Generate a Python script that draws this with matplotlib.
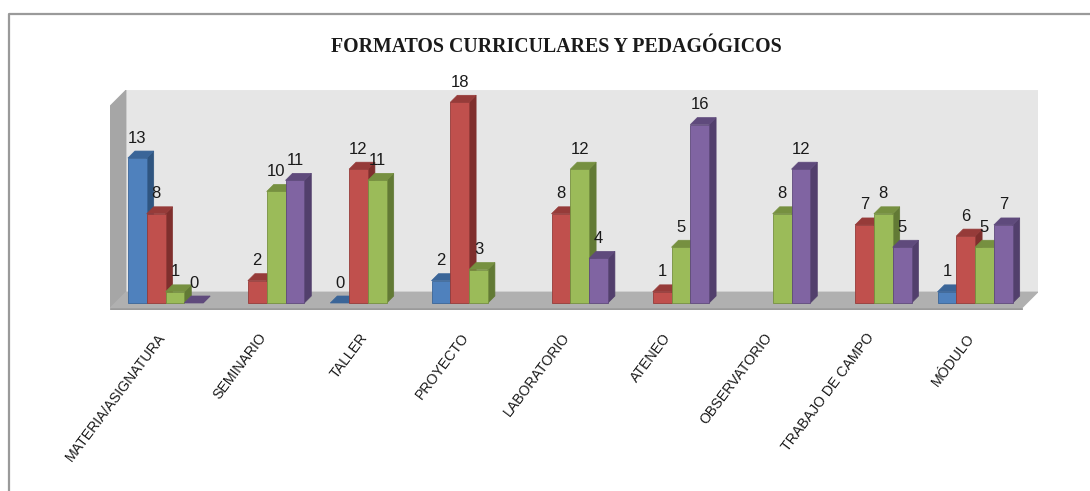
import matplotlib
matplotlib.use("Agg")
import matplotlib.pyplot as plt
from matplotlib.lines import Line2D
from matplotlib.patches import Polygon
from matplotlib.transforms import ScaledTranslation

plt.rcParams["font.family"] = ["Liberation Sans Narrow", "Liberation Sans", "DejaVu Sans"]

categories = ["MATERIA/ASIGNATURA", "SEMINARIO", "TALLER", "PROYECTO", "LABORATORIO",
              "ATENEO", "OBSERVATORIO", "TRABAJO DE CAMPO", "MÓDULO"]
blue = [13, None, 0, 2, None, None, None, None, 1]
red = [8, 2, 12, 18, 8, 1, None, 7, 6]
green = [1, 10, 11, 3, 12, 5, 8, 8, 5]
purple = [0, 11, None, None, 4, 16, 12, 5, 7]

# (front, top, side) shades for each series
SERIES = [
    (blue, ("#4F81BD", "#3A6598", "#2F5580")),
    (red, ("#C0504D", "#963B39", "#7F2F2D")),
    (green, ("#9BBB59", "#769040", "#627A35")),
    (purple, ("#8064A2", "#5F4A7C", "#523F6C")),
]

W, H = 1090, 491
PX_X = 101.2   # px per category
PX_Y = 11.15   # px per count
X0 = 165.5     # px of first category centre
Y0 = 303       # px of the zero line
BAR = 18.8 / PX_X
DX, DY = 7 / PX_X, 7 / PX_Y

fig = plt.figure(figsize=(W / 100, H / 100), dpi=100)
left, right, top, bottom = 110, 1038, 90, 310
ax = fig.add_axes([left / W, 1 - bottom / H, (right - left) / W, (bottom - top) / H])
ax.set_xlim((left - X0) / PX_X, (right - X0) / PX_X)
ax.set_ylim((Y0 - bottom) / PX_Y, (Y0 - top) / PX_Y)
for s in ax.spines.values():
    s.set_visible(False)
ax.set_yticks([])
ax.set_xticks(range(len(categories)))
ax.set_xticklabels(categories, rotation=53, ha="right", va="center",
                   rotation_mode="anchor", fontsize=10.2, color="#1a1a1a")
ax.tick_params(axis="x", length=0, pad=18)
# labels sit a little left of the category centres
shift = ScaledTranslation(-3 / 100, 0, fig.dpi_scale_trans)
for lab in ax.get_xticklabels():
    lab.set_transform(lab.get_transform() + shift)


def px_poly(pts, color, z, edge=None):
    # box corners are given in figure pixels
    data = [((x - X0) / PX_X, (Y0 - y) / PX_Y) for x, y in pts]
    ax.add_patch(Polygon(data, closed=True, facecolor=color, edgecolor=edge or color,
                         linewidth=0.6, zorder=z))


# 3D box: back wall, left wall, floor
px_poly([(126, 90), (1038, 90), (1038, 292), (126, 292)], "#E6E6E6", 1)
px_poly([(110, 106), (126, 90), (126, 292), (110, 308)], "#A6A6A6", 1)
px_poly([(126, 292), (1038, 292), (1022, 308), (110, 308)], "#B0B0B0", 1)
px_poly([(110, 308), (1022, 308), (1022, 310), (110, 310)], "#9A9A9A", 1)

for i in range(len(categories)):
    for j, (vals, (front, roof, side)) in enumerate(SERIES):
        v = vals[i]
        if v is None:
            continue
        x = i + (j - 2) * BAR
        x1 = x + BAR
        ax.add_patch(Polygon([(x1, 0), (x1 + DX, DY), (x1 + DX, v + DY), (x1, v)],
                             facecolor=side, edgecolor=side, linewidth=0.5, zorder=3 + i + j * 0.1))
        ax.add_patch(Polygon([(x, v), (x + DX, v + DY), (x1 + DX, v + DY), (x1, v)],
                             facecolor=roof, edgecolor=roof, linewidth=0.5, zorder=3 + i + j * 0.1))
        if v > 0:
            ax.bar(x, v, width=BAR, align="edge", color=front, edgecolor=roof,
                   linewidth=0.6, zorder=3 + i + j * 0.1)

for i in range(len(categories)):
    for j, (vals, _) in enumerate(SERIES):
        v = vals[i]
        if v is None:
            continue
        ax.annotate(str(v), (i + (j - 2) * BAR + BAR / 2, v), xytext=(0, 14.4),
                    textcoords="offset points", ha="center", va="center",
                    fontsize=12, color="#1a1a1a", zorder=30)

fig.text(556 / W, 1 - 47 / H, "FORMATOS CURRICULARES Y PEDAGÓGICOS",
         family="Liberation Serif", fontweight="bold", fontsize=14.3,
         ha="center", va="center", color="#1a1a1a")

# outer frame of the pasted chart
fig.add_artist(Line2D([9 / W, 9 / W, 1], [0, 1 - 14 / H, 1 - 14 / H],
                      color="#9a9a9a", linewidth=1.6))

fig.savefig("out.png", dpi=100)
